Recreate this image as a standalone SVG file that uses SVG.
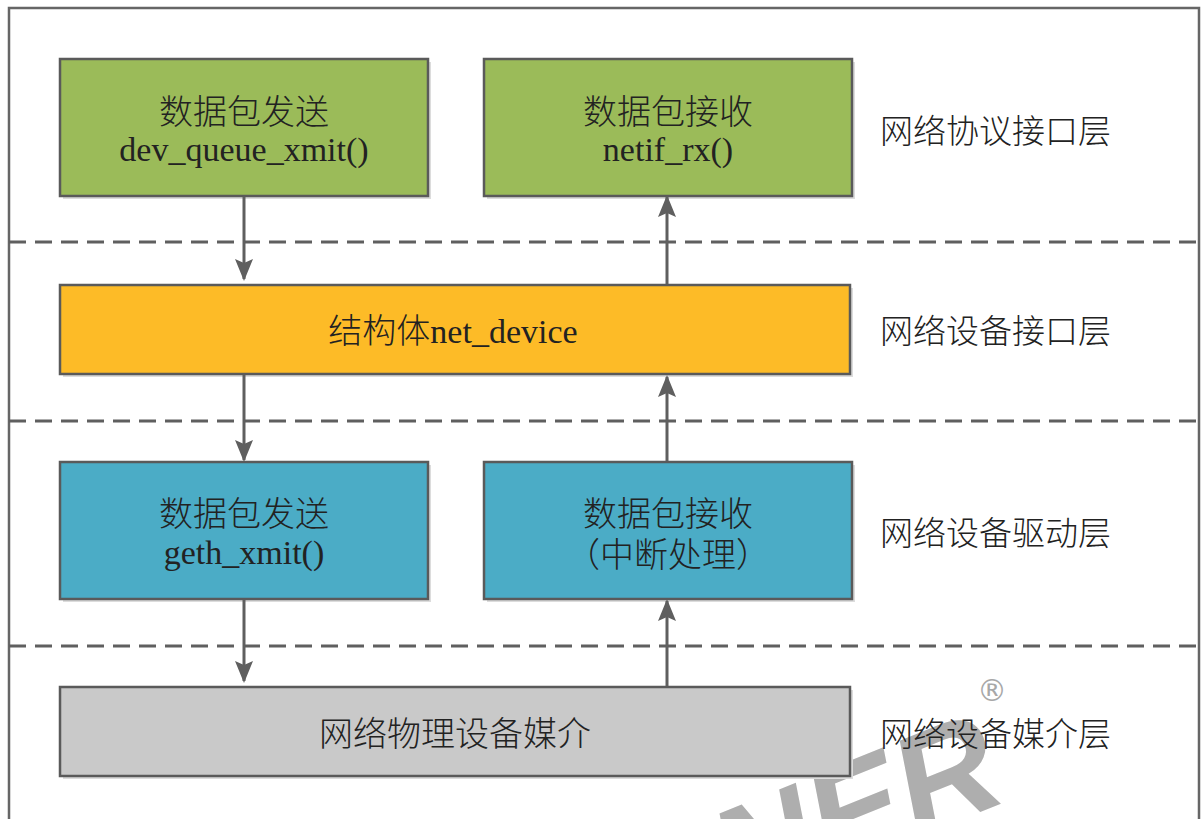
<svg xmlns="http://www.w3.org/2000/svg" width="1201" height="819" viewBox="0 0 1201 819">
<defs>
<style>
.box{stroke:#5a5a5a;stroke-width:2.5}
.shadow{fill:#dcdcdc}
.t{font-family:"Liberation Serif","Noto Sans CJK SC",serif;font-size:34px;fill:#222;text-anchor:middle}
.cj{font-weight:300}
.lbl{font-family:"Noto Sans CJK SC",sans-serif;font-size:33px;fill:#222;font-weight:300}
.dash{stroke:#5f5f5f;stroke-width:3;stroke-dasharray:17 9;fill:none}
.conn{stroke:#5f5f5f;stroke-width:3;fill:none}
</style>
<marker id="ah" markerUnits="userSpaceOnUse" markerWidth="22" markerHeight="18" viewBox="0 0 22 18" refX="20" refY="9" orient="auto">
<path d="M0,0 L22,9 L0,18 L4,9 Z" fill="#5f5f5f"/>
</marker>
</defs>
<rect width="1201" height="819" fill="#fff"/>
<path d="M9,830 V8 H1199 V830" fill="none" stroke="#666" stroke-width="2.5"/>
<g id="separators">
<line class="dash" x1="9" y1="242" x2="1199" y2="242"/>
<line class="dash" x1="9" y1="421" x2="1199" y2="421"/>
<line class="dash" x1="9" y1="646" x2="1199" y2="646"/>
</g>
<g id="watermark" opacity="0.85">
<text x="0" y="0" transform="translate(1010,800) rotate(-22)" text-anchor="end" font-family="Liberation Sans,sans-serif" font-weight="bold" font-style="italic" font-size="140" fill="#a0a0a0">NER</text>
<text x="992" y="701" font-family="DejaVu Sans,sans-serif" font-size="30" fill="#999" text-anchor="middle">®</text>
</g>
<g id="send-proto">
<rect class="shadow" x="63" y="62" width="368" height="137"/>
<rect class="box" x="60" y="59" width="368" height="137" fill="#9bbb59"/>
<text class="t cj" x="244" y="124">数据包发送</text>
<text class="t" x="244" y="161">dev_queue_xmit()</text>
</g>
<g id="recv-proto">
<rect class="shadow" x="487" y="62" width="368" height="137"/>
<rect class="box" x="484" y="59" width="368" height="137" fill="#9bbb59"/>
<text class="t cj" x="668" y="124">数据包接收</text>
<text class="t" x="668" y="161">netif_rx()</text>
</g>
<g id="net-device">
<rect class="shadow" x="63" y="288" width="790" height="89"/>
<rect class="box" x="60" y="285" width="790" height="89" fill="#fdbb27"/>
<text class="t" x="453" y="343"><tspan class="cj">结构体</tspan>net_device</text>
</g>
<g id="send-driver">
<rect class="shadow" x="63" y="465" width="368" height="137"/>
<rect class="box" x="60" y="462" width="368" height="137" fill="#4bacc6"/>
<text class="t cj" x="244" y="526">数据包发送</text>
<text class="t" x="244" y="564">geth_xmit()</text>
</g>
<g id="recv-driver">
<rect class="shadow" x="487" y="465" width="368" height="137"/>
<rect class="box" x="484" y="462" width="368" height="137" fill="#4bacc6"/>
<text class="t cj" x="668" y="526">数据包接收</text>
<text class="t cj" x="668" y="567">（中断处理）</text>
</g>
<g id="medium">
<rect class="shadow" x="63" y="690" width="790" height="89"/>
<rect class="box" x="60" y="687" width="790" height="89" fill="#c9c9c9"/>
<text class="t cj" x="455" y="746">网络物理设备媒介</text>
</g>
<g id="labels">
<text class="lbl" x="880" y="143">网络协议接口层</text>
<text class="lbl" x="880" y="343">网络设备接口层</text>
<text class="lbl" x="880" y="545">网络设备驱动层</text>
<text class="lbl" x="880" y="746">网络设备媒介层</text>
</g>
<g id="connectors">
<line class="conn" x1="244" y1="197" x2="244" y2="279" marker-end="url(#ah)"/>
<line class="conn" x1="244" y1="375" x2="244" y2="460" marker-end="url(#ah)"/>
<line class="conn" x1="244" y1="600" x2="244" y2="681" marker-end="url(#ah)"/>
<line class="conn" x1="667" y1="284" x2="667" y2="197" marker-end="url(#ah)"/>
<line class="conn" x1="667" y1="461" x2="667" y2="377" marker-end="url(#ah)"/>
<line class="conn" x1="667" y1="686" x2="667" y2="601" marker-end="url(#ah)"/>
</g>
</svg>
